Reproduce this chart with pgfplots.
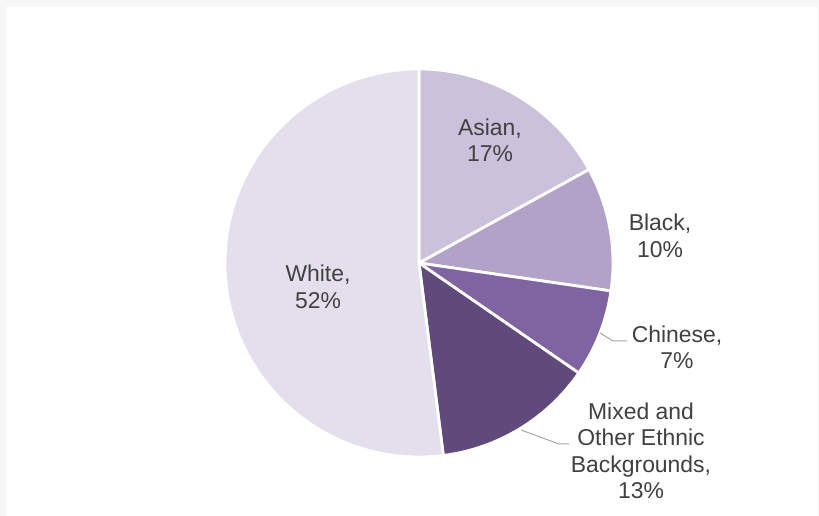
\documentclass[border=0pt]{standalone}
\usepackage{pgfplots}
\usepackage{pgfplotstable}
\pgfplotsset{compat=1.18}
\usepackage{fontspec}
\setmainfont{Liberation Sans}
\definecolor{bggray}{HTML}{F6F6F6}
\definecolor{asian}{HTML}{CCC1DA}
\definecolor{black2}{HTML}{B3A2C7}
\definecolor{chinese}{HTML}{8064A2}
\definecolor{mixed}{HTML}{604A7B}
\definecolor{white2}{HTML}{E4DFEC}
\definecolor{txt}{HTML}{404040}
\definecolor{lead}{HTML}{A6A6A6}
\pgfplotstableread{
name value
Asian 17.0
Black 10.3
Chinese 7.3
Mixed 13.4
White 52.0
}\piedata
\newcommand\getval[2]{\pgfplotstablegetelem{#1}{value}\of\piedata\let#2\pgfplotsretval}
\begin{document}
\begin{tikzpicture}
\getval{0}\vA \getval{1}\vB \getval{2}\vC \getval{3}\vD \getval{4}\vE
\pgfmathsetmacro\aA{90-3.6*\vA}
\pgfmathsetmacro\aB{\aA-3.6*\vB}
\pgfmathsetmacro\aC{\aB-3.6*\vC}
\pgfmathsetmacro\aD{\aC-3.6*\vD}
\pgfmathsetmacro\aE{\aD-3.6*\vE}
\begin{axis}[x=1bp, y=1bp, xmin=0, xmax=819, ymin=0, ymax=516,
  hide axis, scale only axis, clip=false, anchor=origin, at={(0,0)}]
\fill[bggray] (axis cs:0,0) rectangle (axis cs:819,516);
\fill[white] (axis cs:6,0) rectangle (axis cs:818,509);
\tikzset{slice/.style={draw=white, line width=2.8pt, line join=round}}
\fill[asian, slice] (axis cs:419,253) -- ++(90:194bp) arc[start angle=90, end angle=\aA, radius=194bp] -- cycle;
\fill[black2, slice] (axis cs:419,253) -- ++(\aA:194bp) arc[start angle=\aA, end angle=\aB, radius=194bp] -- cycle;
\fill[chinese, slice] (axis cs:419,253) -- ++(\aB:194bp) arc[start angle=\aB, end angle=\aC, radius=194bp] -- cycle;
\fill[mixed, slice] (axis cs:419,253) -- ++(\aC:194bp) arc[start angle=\aC, end angle=\aD, radius=194bp] -- cycle;
\fill[white2, slice] (axis cs:419,253) -- ++(\aD:194bp) arc[start angle=\aD, end angle=\aE, radius=194bp] -- cycle;
\draw[lead, line width=1pt] (axis cs:600,183) -- (axis cs:613,175) -- (axis cs:627,175);
\draw[lead, line width=1pt] (axis cs:521,86) -- (axis cs:559,72) -- (axis cs:569,72);
\tikzset{lab/.style={align=center, text=txt, font=\fontsize{23}{26.5}\selectfont, inner sep=0pt}}
\node[lab] at (axis cs:490,376) {Asian,\\17\%};
\node[lab] at (axis cs:660,280) {Black,\\10\%};
\node[lab] at (axis cs:677,169) {Chinese,\\7\%};
\node[lab] at (axis cs:641,65) {Mixed and\\Other Ethnic\\Backgrounds,\\13\%};
\node[lab] at (axis cs:318,229) {White,\\52\%};
\end{axis}
\end{tikzpicture}
\end{document}
